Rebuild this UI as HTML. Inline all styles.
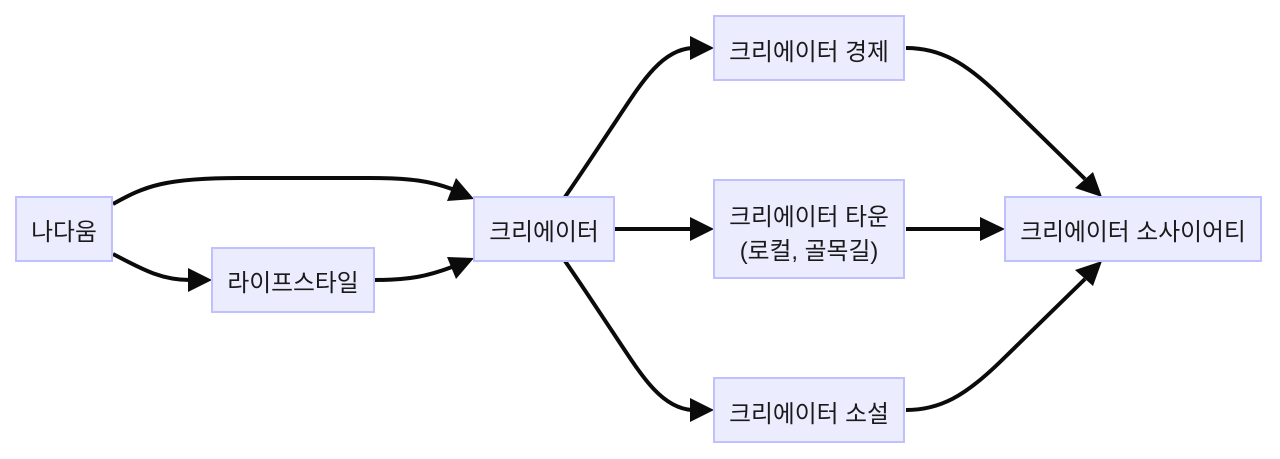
<!DOCTYPE html>
<html lang="ko"><head><meta charset="utf-8"><style>
html,body{margin:0;padding:0;background:#fff}
svg{display:block}
rect{fill:#ececff;stroke:#c0c0ff;stroke-width:2}
path.e{fill:none;stroke:#0b0b0b;stroke-width:4}
polygon{fill:#0b0b0b}
text{font-family:"Liberation Sans","Noto Sans CJK KR",sans-serif;font-size:23.8px;fill:#1a1a1a;text-anchor:middle}
</style></head><body>
<svg width="1280" height="459" viewBox="0 0 1280 459" xmlns="http://www.w3.org/2000/svg">
<path class="e" d="M113 204C145 186 165 178 240 178L370 178C410 178 430 181 452 189"/>
<path class="e" d="M113 254C140 268 160 280 190 280"/>
<path class="e" d="M375 280C410 280 428 276 452 267"/>
<path class="e" d="M565 197C585 168 598 148 612 127C640 85 660 50 692 48"/>
<path class="e" d="M615 229L692 229"/>
<path class="e" d="M565 261C585 290 598 310 612 331C640 373 660 408 692 410"/>
<path class="e" d="M906 48C940 48 965 62 1000 96L1085 179"/>
<path class="e" d="M906 229L982 229"/>
<path class="e" d="M906 410C940 410 965 396 1000 362L1085 279"/>
<polygon points="714,48 690,36 690,60"/>
<polygon points="714,229 690,217 690,241"/>
<polygon points="714,410 690,398 690,422"/>
<polygon points="212,280 188,268 188,292"/>
<polygon points="474,199 456,178 447,201"/>
<polygon points="474,258 447,257 456,279"/>
<polygon points="1005,229 980,217 980,241"/>
<polygon points="1102,197 1093,172 1075,188"/>
<polygon points="1102,261 1075,270 1093,286"/>
<rect x="16" y="197" width="96" height="64"/>
<rect x="212" y="248" width="162" height="64"/>
<rect x="474" y="197" width="140" height="64"/>
<rect x="714" y="16" width="190" height="64"/>
<rect x="714" y="180" width="190" height="98"/>
<rect x="714" y="378" width="190" height="64"/>
<rect x="1005" y="197" width="256" height="64"/>
<text x="64" y="240">나다움</text>
<text x="293" y="291">라이프스타일</text>
<text x="544" y="240">크리에이터</text>
<text x="809" y="60">크리에이터 경제</text>
<text x="809" y="225">크리에이터 타운</text>
<text x="809" y="259">(로컬, 골목길)</text>
<text x="809" y="422">크리에이터 소설</text>
<text x="1133" y="240">크리에이터 소사이어티</text>
</svg>
</body></html>
